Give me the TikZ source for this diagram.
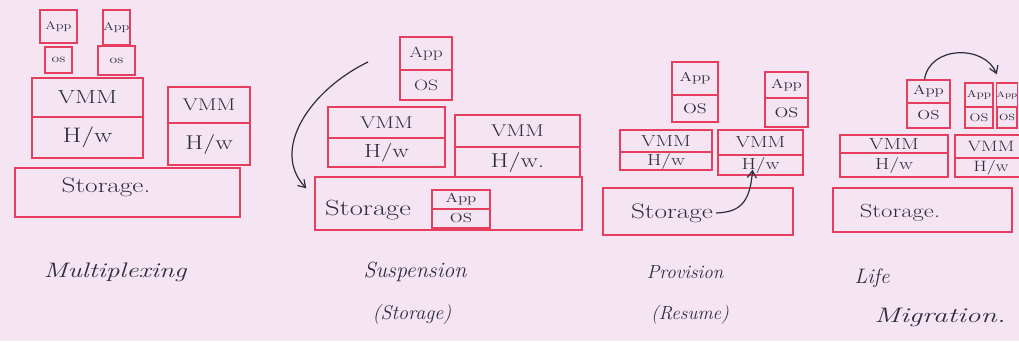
\documentclass[tikz,border=0pt]{standalone}
\usetikzlibrary{arrows.meta}
\definecolor{bg}{RGB}{245,229,243}
\definecolor{pen}{RGB}{230,62,95}
\definecolor{ink}{RGB}{45,45,62}
\tikzset{
  cellbox/.style={draw=pen, line width=1.4pt, inner sep=0pt, text=ink},
  lbl/.style={text=ink, inner sep=0pt},
  txt/.style={text=ink, inner sep=0pt},
  arr/.style={draw=ink, line width=1.2pt, -{Straight Barb[length=7pt,width=9pt]}}
}
\newcommand\widen[1]{\scalebox{1.3}[1]{#1}}
\newcommand\vcell[7]{\node[cellbox, minimum width={#4pt-#2pt}, minimum height={#5pt-#3pt},
  font=\fontsize{#6}{#6}\selectfont] (#1) at ({(#2+#4)/2},{(#3+#5)/2}) {\widen{#7}};}
\newcommand\lbfont[1]{\fontsize{#1}{#1}\selectfont\itshape}
\begin{document}
\begin{tikzpicture}[x=1pt,y=-1pt]
\fill[bg] (0,0) rectangle (1019,341);
\useasboundingbox (0,0) rectangle (1019,341);
\clip (0,0) rectangle (1019,341);
% ---- Multiplexing
\vcell{app1a}{40}{10}{77}{43}{11}{App}
\vcell{os1a}{45}{47}{72}{73}{12}{os}
\vcell{app1b}{103}{10}{130}{45}{11}{App}
\vcell{os1b}{98}{46}{135}{75}{12}{os}
\vcell{vmm1a}{32}{78}{143}{117}{19}{VMM}
\vcell{hw1a}{32}{117}{143}{158}{21}{H/w}
\vcell{vmm1b}{168}{87}{250}{123}{17}{VMM}
\vcell{hw1b}{168}{123}{250}{165}{20}{H/w}
\vcell{sto1}{15}{168}{240}{217}{20}{}
\node[txt, font=\fontsize{21}{21}\selectfont] (t1sto) at (106,187) {\widen{Storage.}};
\node[lbl, font=\lbfont{21}] (l1) at (115,272) {\scalebox{1.3}[1]{Multiplexing}};
% ---- Suspension
\vcell{app2}{400}{37}{452}{70}{15}{App}
\vcell{os2}{400}{70}{452}{100}{15}{OS}
\vcell{vmm2a}{328}{107}{445}{138}{17}{VMM}
\vcell{hw2a}{328}{138}{445}{167}{19}{H/w}
\vcell{vmm2b}{455}{115}{580}{147}{17}{VMM}
\vcell{hw2b}{455}{147}{580}{177}{20}{H/w.}
\vcell{sto2}{315}{177}{582}{230}{18}{}
\node[txt, font=\fontsize{22}{22}\selectfont] (t2sto) at (368,210) {\widen{Storage}};
\vcell{app2s}{432}{190}{490}{209}{13}{App}
\vcell{os2s}{432}{209}{490}{228}{13}{OS}
\coordinate (s2) at (368,62);
\draw[arr] (s2) .. controls (310,90) and (270,150) .. ([shift={(-8,12)}]sto2.north west);
\node[lbl, font=\lbfont{22}] (l2a) at (415,272) {Suspension};
\node[lbl, font=\lbfont{20}] (l2b) at (412,315) {(Storage)};
% ---- Provision
\vcell{app3a}{672}{62}{718}{95}{13}{App}
\vcell{os3a}{672}{95}{718}{122}{14}{OS}
\vcell{app3b}{765}{72}{808}{98}{13}{App}
\vcell{os3b}{765}{98}{808}{127}{14}{OS}
\vcell{vmm3a}{620}{130}{712}{152}{16}{VMM}
\vcell{hw3a}{620}{152}{712}{170}{16}{H/w}
\vcell{vmm3b}{718}{130}{803}{155}{16}{VMM}
\vcell{hw3b}{718}{155}{803}{175}{16}{H/w}
\vcell{sto3}{603}{188}{793}{235}{18}{}
\node[txt, font=\fontsize{21}{21}\selectfont] (t3sto) at (672,213) {\widen{Storage}};
\draw[arr] ([xshift=3pt]t3sto.east) .. controls (738,212) and (750,205) .. ([shift={(-8,-6)}]hw3b.south);
\node[lbl, font=\lbfont{19}] (l3a) at (685,272) {Provision};
\node[lbl, font=\lbfont{19}] (l3b) at (690,315) {(Resume)};
% ---- Life Migration
\vcell{app4a}{907}{80}{950}{103}{13}{App}
\vcell{os4a}{907}{103}{950}{128}{13}{OS}
\vcell{app4b}{965}{83}{993}{107}{10}{App}
\vcell{os4b}{965}{107}{993}{128}{11}{OS}
\vcell{app4c}{997}{83}{1017}{107}{8}{App}
\vcell{os4c}{997}{107}{1017}{128}{9}{OS}
\vcell{vmm4a}{840}{135}{948}{153}{16}{VMM}
\vcell{hw4a}{840}{153}{948}{177}{16}{H/w}
\vcell{vmm4b}{955}{135}{1027}{158}{15}{VMM}
\vcell{hw4b}{955}{158}{1027}{177}{15}{H/w}
\vcell{sto4}{833}{188}{1012}{232}{17}{}
\node[txt, font=\fontsize{19}{19}\selectfont] (t4sto) at (900,213) {\widen{Storage.}};
\draw[arr] ([xshift=-4pt]app4a.north) .. controls (930,45) and (985,45) .. ([shift={(3,-8)}]app4b.north east);
\node[lbl, font=\lbfont{21}] (l4a) at (872,278) {Life};
\node[lbl, font=\lbfont{21}] (l4b) at (940,317) {\scalebox{1.4}[1]{Migration.}};
\end{tikzpicture}
\end{document}
